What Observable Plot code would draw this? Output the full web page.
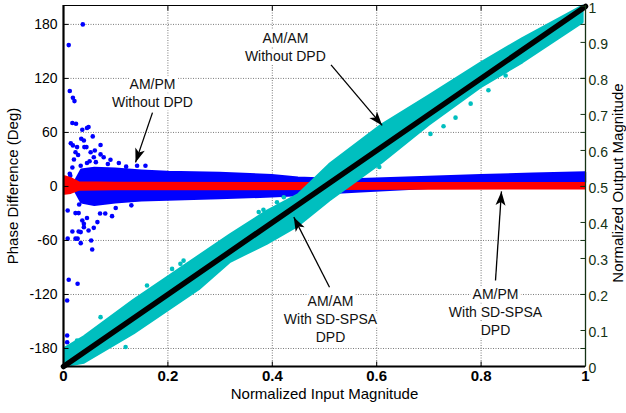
<!DOCTYPE html>
<html><head><meta charset="utf-8">
<script src="https://cdn.jsdelivr.net/npm/d3@7"></script>
<script src="https://cdn.jsdelivr.net/npm/@observablehq/plot@0.6"></script>
<style>body{margin:0;background:#fff}#chart svg{display:block}</style>
</head><body><div id="chart"></div>
<script>
// ---- axis ticks ----
const xTicks = [0, 0.2, 0.4, 0.6, 0.8, 1];
const phaseTicks = [-180, -120, -60, 0, 60, 120, 180];
const outTicks = [0, 0.1, 0.2, 0.3, 0.4, 0.5, 0.6, 0.7, 0.8, 0.9, 1];

// ---- AM/AM without DPD (cyan band, normalized output) ----
const cyanX  = [0.003, 0.04, 0.135, 0.26, 0.32, 0.39, 0.45, 0.51, 0.61, 0.70, 0.80, 0.88, 0.995];
const cyanHi = [0.05, 0.082, 0.183, 0.306, 0.365, 0.43, 0.476, 0.56, 0.67, 0.75, 0.842, 0.91, 1.0];
const cyanLo = [0.0, 0.01, 0.091, 0.214, 0.29, 0.34, 0.39, 0.46, 0.565, 0.67, 0.775, 0.844, 0.955];
const cyanOutX = [0.703, 0.751, 0.78, 0.814, 0.847, 0.728, 0.605, 0.374, 0.383, 0.333, 0.23, 0.208, 0.16, 0.409, 0.422, 0.071, 0.026, 0.119, 0.224];
const cyanOutY = [0.646, 0.691, 0.73, 0.767, 0.808, 0.667, 0.554, 0.429, 0.435, 0.373, 0.294, 0.271, 0.225, 0.456, 0.47, 0.137, 0.072, 0.054, 0.285];

// ---- AM/AM with SD-SPSA DPD (black, normalized output) ----
const dpdAmX = [0, 0.5, 1];
const dpdAmY = [0, 0.5, 1];

// ---- AM/PM without DPD (blue, degrees) ----
const blueX  = [0.022, 0.035, 0.06, 0.1, 0.15, 0.2, 0.3, 0.4, 0.45, 0.5, 0.57, 0.7, 0.8, 0.9, 1.0];
const blueHi = [4, 18, 20, 19, 17, 15.5, 14.5, 12, 9, 8, 7.5, 10, 12, 13.5, 15];
const blueLo = [-4, -18, -21, -18, -16, -15, -13.5, -11.5, -10, -8, -6, -2, 0, 2, 4.5];
const blueOutX = [0.037, 0.010, 0.012, 0.018, 0.021, 0.017, 0.024, 0.036, 0.045, 0.048, 0.056, 0.018, 0.026, 0.023, 0.034, 0.039, 0.040, 0.044, 0.071, 0.052, 0.058, 0.077, 0.071, 0.090, 0.017, 0.033, 0.045, 0.012, 0.141, 0.157, 0.106, 0.013, 0.008, 0.023, 0.029, 0.036, 0.039, 0.033, 0.039, 0.017, 0.029, 0.048, 0.058, 0.023, 0.027, 0.033, 0.053, 0.055, 0.008, 0.065, 0.080, 0.093, 0.010, 0.027, 0.007, 0.007, 0.007, 0.014, 0.020, 0.028, 0.050, 0.060, 0.030, 0.045, 0.070, 0.12, 0.085, 0.13, 0.1, 0.062];
const blueOutY = [180, 157, 106, 98.6, 94.8, 70.4, 69.7, 63, 65, 66, 55.6, 45.6, 43.7, 38, 53, 51, 43.7, 43.7, 46, 38, 32.5, 32.5, 35.6, 29.6, 21, 23, 26, 14, 23, 23, 26, 12, -26.7, -29.6, -29.6, -37.8, -41.5, -50.7, -45.2, -50, -50, -49, -46, -58, -58, -63, -60, -70, -58, -39.6, -30, -33, -103.7, -108, -126.7, -165.5, -173, 48, 30, 35, 28, 40, -20, -35, -30, 22, 25, -21, -24, 27];

// ---- AM/PM with SD-SPSA DPD (red, degrees) ----
const redX  = [0.003, 0.015, 0.03, 0.1, 0.5, 1.0];
const redHi = [11, 9, 4.5, 3.8, 3.5, 3.5];
const redLo = [-9, -8, -4.5, -4, -3.8, -3];

// ---- annotations ----
const noteText = ["AM/AM\nWithout DPD", "AM/PM\nWithout DPD", "AM/AM\nWith SD-SPSA\nDPD", "AM/PM\nWith SD-SPSA\nDPD"];
const noteX = [0.425, 0.1705, 0.5115, 0.8276];
const noteY = [155.3, 104.9, -146.1, -138.4];
const arrowX1 = [0.1705, 0.5125, 0.5096, 0.8276];
const arrowY1 = [82, 135, -112, -104.5];
const arrowX2 = [0.138, 0.6105, 0.4412, 0.839];
const arrowY2 = [26.7, 67.8, -34.1, -5.5];

// ---- layout ----
const W = 626, H = 413, mL = 63, mR = 41, mT = 5, mB = 47;
const innerW = W - mL - mR, innerH = H - mT - mB;
const yMin = -200, yMax = 201;
const kx = innerW, ky = innerH / (yMax - yMin);
const tickX = 5 / kx, tickY = 5 / ky;   // 5px inward ticks in data units
const toDeg = v => (v - 0.5) * 400;     // right axis (0..1) onto left axis (deg)
const fontFamily = "'Liberation Sans', Arial, Helvetica, sans-serif";
const green = "#143214";

const cyan = cyanX.map((x, i) => ({x, lo: toDeg(cyanLo[i]), hi: toDeg(cyanHi[i])}));
const cyanOut = cyanOutX.map((x, i) => ({x, y: toDeg(cyanOutY[i])}));
const dpdAm = dpdAmX.map((x, i) => ({x, y: toDeg(dpdAmY[i])}));
const blue = blueX.map((x, i) => ({x, lo: blueLo[i], hi: blueHi[i]}));
const blueOut = blueOutX.map((x, i) => ({x, y: blueOutY[i]}));
const red = redX.map((x, i) => ({x, lo: redLo[i], hi: redHi[i]}));
const notes = noteText.map((t, i) => ({t, x: noteX[i], y: noteY[i]}));
const arrows = arrowX1.map((x1, i) => {
  const x2 = arrowX2[i], y1 = arrowY1[i], y2 = arrowY2[i];
  const sx = (x2 - x1) * kx, sy = -(y2 - y1) * ky;
  const L = Math.hypot(sx, sy);
  return {x1, y1, x2, y2, angle: Math.atan2(sx / L, -sy / L) * 180 / Math.PI};
});
const headSymbol = {draw(ctx) {
  ctx.moveTo(0, 0); ctx.lineTo(-5, 14); ctx.lineTo(0, 10.5); ctx.lineTo(5, 14); ctx.closePath();
}};
const outTicksDeg = outTicks.map(toDeg);
const fmtOut = d => String(+((d / 400) + 0.5).toFixed(1));
const id = d => d;

const chart = Plot.plot({
  width: W, height: H,
  marginLeft: mL, marginRight: mR, marginTop: mT, marginBottom: mB,
  x: {domain: [0, 1]},
  y: {domain: [yMin, yMax]},
  style: {fontFamily, fontSize: "14px", background: "#fff", color: "#000", overflow: "visible"},
  marks: [
    // grid
    Plot.gridX(xTicks.slice(1, -1), {stroke: "#7a7a7a", strokeOpacity: 1, strokeDasharray: "1,1.5"}),
    Plot.gridY(phaseTicks, {stroke: "#7a7a7a", strokeOpacity: 1, strokeDasharray: "1,1.5"}),
    // AM/PM without DPD
    Plot.areaY(blue, {x: "x", y1: "lo", y2: "hi", fill: "#0000ff", stroke: "#0000ff", strokeWidth: 2.5}),
    Plot.dot(blueOut, {x: "x", y: "y", r: 2.3, fill: "#0000ff"}),
    // AM/PM with DPD
    Plot.areaY(red, {x: "x", y1: "lo", y2: "hi", fill: "#ff0000", stroke: "#ff0000", strokeWidth: 1.5}),
    // AM/AM without DPD
    Plot.areaY(cyan, {x: "x", y1: "lo", y2: "hi", fill: "#00bfbf", stroke: "#00bfbf", strokeWidth: 2.5}),
    Plot.dot(cyanOut, {x: "x", y: "y", r: 2.3, fill: "#00bfbf"}),
    // AM/AM with DPD
    Plot.line(dpdAm, {x: "x", y: "y", stroke: "#000", strokeWidth: 5.5, strokeLinecap: "round"}),
    // annotations
    Plot.text(notes, {x: "x", y: "y", text: "t", fontSize: 14, lineHeight: 1.28, fill: "#111",
      stroke: "#fff", strokeWidth: 7, paintOrder: "stroke", strokeLinejoin: "round"}),
    Plot.link(arrows, {x1: "x1", y1: "y1", x2: "x2", y2: "y2", stroke: "#000", strokeWidth: 1.3}),
    Plot.dot(arrows, {x: "x2", y: "y2", symbol: headSymbol, rotate: "angle", fill: "#000", stroke: "none", r: 5}),
    // inward ticks
    Plot.link(xTicks, {x1: id, x2: id, y1: yMin, y2: yMin + tickY, stroke: "#000"}),
    Plot.link(xTicks, {x1: id, x2: id, y1: yMax, y2: yMax - tickY, stroke: "#000"}),
    Plot.link(phaseTicks, {x1: 0, x2: tickX, y1: id, y2: id, stroke: "#000"}),
    Plot.link(phaseTicks, {x1: 1, x2: 1 - tickX, y1: id, y2: id, stroke: green}),
    Plot.link(outTicksDeg, {x1: 1, x2: 1 - tickX, y1: id, y2: id, stroke: green}),
    // frame
    Plot.ruleY([yMax], {stroke: "#000", strokeWidth: 1}),
    Plot.ruleX([1], {stroke: green, strokeWidth: 1.3}),
    Plot.ruleX([0], {stroke: "#000", strokeWidth: 2.2}),
    Plot.ruleY([yMin], {stroke: "#000", strokeWidth: 2.2}),
    // axes
    Plot.axisX(xTicks, {tickSize: 0, tickPadding: 4, fontSize: 15, fontWeight: "bold", tickFormat: d => String(d), label: null}),
    Plot.axisY(phaseTicks, {anchor: "left", tickSize: 0, tickPadding: 6, fontSize: 14, tickFormat: d => String(d), label: null}),
    Plot.axisY(outTicksDeg, {anchor: "right", tickSize: 0, tickPadding: 3, dy: 2, fontSize: 14, color: green, tickFormat: fmtOut, label: null}),
    // axis titles
    Plot.text(["Phase Difference (Deg)"], {text: id, frameAnchor: "left", textAnchor: "middle", dx: -50, rotate: -90, fontSize: 15}),
    Plot.text(["Normalized Output Magnitude"], {text: id, frameAnchor: "right", textAnchor: "middle", dx: 33, dy: -3, rotate: -90, fontSize: 15}),
    Plot.text(["Normalized Input Magnitude"], {text: id, frameAnchor: "bottom", textAnchor: "middle", dy: 32, fontSize: 15})
  ]
});
document.getElementById("chart").append(chart);
</script></body></html>
